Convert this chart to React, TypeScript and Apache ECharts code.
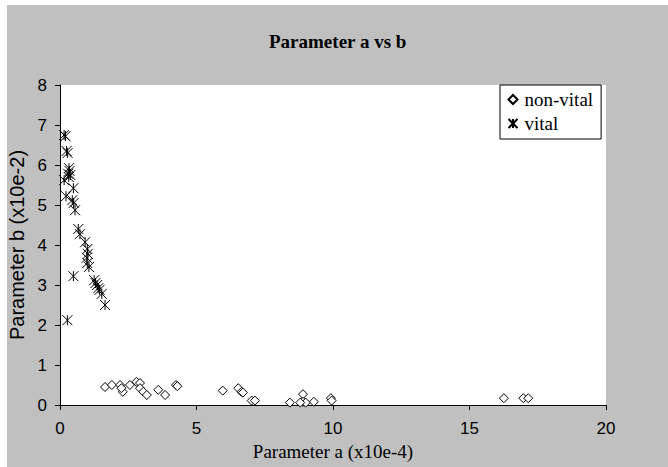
import React, { useEffect, useRef } from "react";
import * as echarts from "echarts";

const titleText = "Parameter a vs b";
const xName = "Parameter a (x10e-4)";
const yName = "Parameter b (x10e-2)";
const xTicks = [0, 5, 10, 15, 20];
const yTicks = [0, 1, 2, 3, 4, 5, 6, 7, 8];

const nonVital: number[][] = [
  [1.65, 0.45], [1.9, 0.5], [2.2, 0.5], [2.3, 0.33], [2.25, 0.42], [2.56, 0.5],
  [2.8, 0.58], [2.93, 0.55], [2.93, 0.42], [3.05, 0.33], [3.18, 0.25], [3.6, 0.38],
  [3.85, 0.25], [4.25, 0.5], [4.3, 0.47], [5.96, 0.36], [6.53, 0.42], [6.65, 0.33],
  [6.7, 0.31], [7.02, 0.11], [7.14, 0.11], [8.42, 0.06], [8.9, 0.27], [8.9, 0.08],
  [9.0, 0.06], [8.8, 0.06], [9.3, 0.08], [9.92, 0.17], [9.95, 0.11], [16.26, 0.17],
  [16.97, 0.17], [17.15, 0.17],
];

const vital: number[][] = [
  [0.15, 6.75], [0.2, 6.72], [0.24, 6.35], [0.28, 6.3], [0.33, 5.92], [0.35, 5.85],
  [0.3, 5.78], [0.38, 5.75], [0.32, 5.7], [0.15, 5.62], [0.49, 5.42], [0.22, 5.22],
  [0.45, 5.12], [0.5, 5.05], [0.55, 4.87], [0.67, 4.4], [0.73, 4.27], [0.92, 4.07],
  [1.0, 3.9], [1.02, 3.78], [0.98, 3.68], [1.0, 3.55], [1.06, 3.45], [0.49, 3.22],
  [1.25, 3.12], [1.3, 3.05], [1.36, 3.0], [1.4, 2.92], [1.45, 2.88], [1.53, 2.78],
  [1.65, 2.5], [0.27, 2.12],
];

const starPath = "path://M0,0 L10,10 M10,0 L0,10 M5,0 L5,10";

const OX = 7;
const OY = 5;

export default function App() {
  const ref = useRef<HTMLDivElement>(null);
  useEffect(() => {
    if (!ref.current) return;
    const chart = echarts.init(ref.current, null, { renderer: "svg" });
    chart.setOption({
      animation: false,
      backgroundColor: "#c0c0c0",
      title: {
        text: titleText,
        left: 264 - OX,
        top: 27 - OY,
        textStyle: {
          fontFamily: "Liberation Serif",
          fontWeight: "bold",
          fontSize: 19,
          color: "#000",
        },
      },
      legend: {
        orient: "vertical",
        left: 500 - OX,
        top: 85 - OY,
        backgroundColor: "#ffffff",
        borderColor: "#000",
        borderWidth: 1,
        padding: [5, 8, 6, 6],
        itemGap: 5,
        itemWidth: 9,
        itemHeight: 9,
        textStyle: { fontFamily: "Liberation Serif", fontSize: 19, color: "#000", padding: [0, 0, 0, 2] },
        data: [
          { name: "non-vital", icon: "diamond" },
          { name: "vital", icon: starPath },
        ],
      },
      grid: {
        left: 60 - OX,
        top: 85 - OY,
        width: 546,
        height: 320,
        show: true,
        backgroundColor: "#ffffff",
        borderWidth: 0,
        outerBoundsMode: "none",
        containLabel: false,
      },
      xAxis: {
        type: "value",
        min: xTicks[0],
        max: xTicks[xTicks.length - 1],
        interval: 5,
        name: xName,
        nameLocation: "middle",
        nameGap: 37,
        nameTextStyle: { fontFamily: "Liberation Serif", fontSize: 19, color: "#000" },
        axisLine: { show: true, lineStyle: { color: "#000", width: 1 } },
        axisTick: { show: true, inside: false, length: 5, lineStyle: { color: "#000" } },
        axisLabel: { fontFamily: "Liberation Sans", fontSize: 17, color: "#000", margin: 15 },
        splitLine: { show: false },
      },
      yAxis: {
        type: "value",
        min: yTicks[0],
        max: yTicks[yTicks.length - 1],
        interval: 1,
        name: yName,
        nameLocation: "middle",
        nameRotate: 90,
        nameGap: 24,
        nameTextStyle: { fontFamily: "Liberation Sans", fontSize: 20, color: "#000" },
        axisLine: { show: true, lineStyle: { color: "#000", width: 1 } },
        axisTick: { show: true, inside: false, length: 5, lineStyle: { color: "#000" } },
        axisLabel: { fontFamily: "Liberation Sans", fontSize: 17, color: "#000", margin: 13 },
        splitLine: { show: false },
      },
      series: [
        {
          name: "non-vital",
          type: "scatter",
          symbol: "diamond",
          symbolSize: 9,
          data: nonVital,
          itemStyle: { color: "#ffffff", borderColor: "#000", borderWidth: 1, opacity: 1 },
        },
        {
          name: "vital",
          type: "scatter",
          symbol: starPath,
          symbolSize: 10,
          data: vital,
          itemStyle: { color: "none", borderColor: "#000", borderWidth: 1, opacity: 1 },
        },
      ],
    });
    return () => chart.dispose();
  }, []);
  return (
    <div style={{ position: "absolute", left: 0, top: 0, width: 668, height: 467, background: "#ffffff" }}>
      <div
        ref={ref}
        style={{ position: "absolute", left: OX, top: OY, width: 668 - OX, height: 467 - OY }}
      />
    </div>
  );
}
